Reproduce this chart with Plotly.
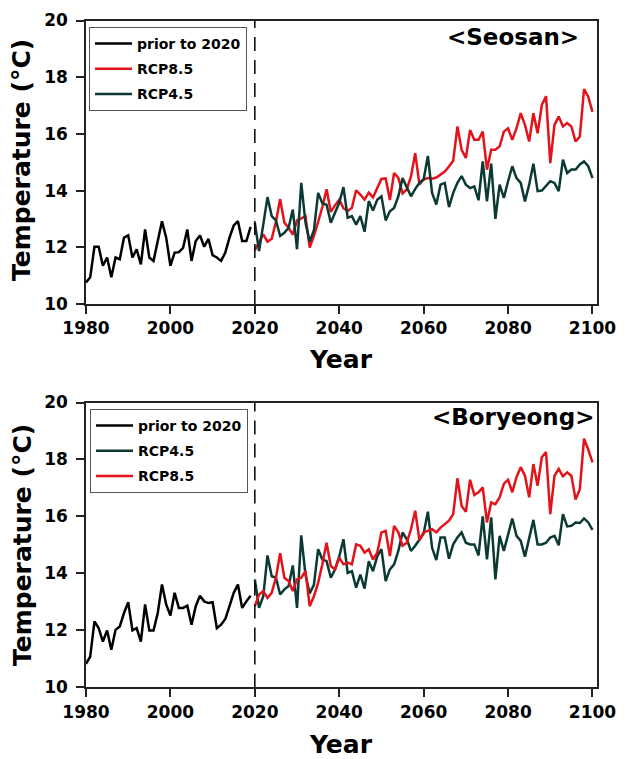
import plotly.graph_objects as go

# ---------------- data ----------------
HIST_YEARS = list(range(1980, 2020))
PROJ_YEARS = list(range(2020, 2101))
SPLIT_YEAR = 2020

seosan_hist = [10.76, 10.94, 12.02, 12.02, 11.35, 11.64, 10.94, 11.64, 11.58, 12.34,
               12.42, 11.64, 11.93, 11.40, 12.63, 11.64, 11.52, 12.20, 12.92, 12.34,
               11.35, 11.81, 11.83, 11.98, 12.63, 11.52, 12.22, 12.42, 12.02, 12.30,
               11.72, 11.64, 11.52, 11.81, 12.34, 12.77, 12.92, 12.22, 12.22, 12.72]

seosan_rcp85 = [11.90, 12.16, 12.46, 12.20, 12.30, 12.90, 13.70, 12.87, 12.69, 12.45,
                12.95, 13.02, 13.10, 11.99, 12.40, 12.90, 13.42, 14.05, 13.25, 13.48,
                13.68, 13.38, 13.28, 13.39, 14.01, 13.86, 13.68, 13.93, 13.76, 14.09,
                14.41, 14.43, 13.67, 14.62, 14.45, 13.90, 14.04, 14.50, 15.32, 14.22,
                14.39, 14.44, 14.42, 14.46, 14.55, 14.67, 14.85, 15.05, 16.26, 15.44,
                15.15, 16.14, 15.79, 15.79, 16.08, 14.74, 15.44, 15.44, 15.56, 16.08,
                16.20, 15.79, 16.20, 16.73, 16.32, 15.73, 16.73, 16.02, 17.02, 17.33,
                14.97, 16.32, 16.61, 16.26, 16.38, 16.26, 15.73, 15.91, 17.58, 17.31,
                16.78]

seosan_rcp45 = [12.87, 11.87, 12.80, 13.77, 13.10, 12.95, 12.40, 12.51, 12.69, 13.33,
                11.93, 14.27, 12.87, 12.20, 12.60, 13.92, 13.55, 13.50, 12.87, 13.22,
                13.57, 14.12, 13.04, 13.10, 12.80, 13.10, 12.55, 13.63, 13.30, 13.68,
                13.80, 12.95, 13.27, 13.39, 13.80, 14.44, 14.10, 13.80, 14.06, 14.27,
                14.40, 15.22, 13.92, 13.51, 14.21, 14.27, 13.42, 13.92, 14.27, 14.51,
                14.21, 14.09, 14.15, 13.66, 15.03, 13.62, 14.95, 13.00, 14.21, 13.74,
                14.33, 14.86, 14.44, 14.27, 13.62, 14.21, 14.95, 13.98, 14.00, 14.15,
                14.33, 14.27, 13.98, 15.09, 14.62, 14.74, 14.74, 14.92, 15.03, 14.86,
                14.44]

boryeong_hist = [10.83, 11.08, 12.32, 12.08, 11.61, 12.00, 11.32, 12.02, 12.14, 12.61,
                 12.99, 12.00, 12.08, 11.61, 12.91, 12.00, 12.00, 12.61, 13.61, 12.91,
                 12.52, 13.32, 12.79, 12.79, 12.87, 12.20, 12.85, 13.22, 13.02, 12.96,
                 12.99, 12.08, 12.20, 12.40, 12.85, 13.32, 13.61, 12.79, 13.02, 13.22]

boryeong_rcp45 = [13.79, 12.79, 13.20, 14.63, 13.90, 13.85, 13.26, 13.44, 13.56, 14.28,
                  12.79, 15.34, 13.96, 13.30, 13.60, 14.85, 14.49, 14.43, 13.85, 14.14,
                  14.60, 15.20, 14.02, 14.08, 13.50, 13.96, 13.47, 14.43, 14.08, 14.60,
                  14.85, 13.73, 14.14, 14.32, 14.79, 15.44, 15.20, 14.79, 14.97, 15.20,
                  15.40, 16.17, 14.90, 14.47, 15.26, 15.26, 14.52, 15.02, 15.26, 15.44,
                  15.08, 15.02, 15.02, 14.63, 16.00, 14.49, 15.97, 13.79, 15.32, 14.79,
                  15.32, 15.93, 15.32, 15.14, 14.59, 15.20, 15.88, 15.02, 15.02, 15.08,
                  15.26, 15.32, 14.99, 16.08, 15.65, 15.67, 15.79, 15.77, 15.93, 15.79,
                  15.53]

boryeong_rcp85 = [12.85, 13.26, 13.38, 13.14, 13.32, 13.85, 14.71, 13.85, 13.73, 13.38,
                  13.79, 13.85, 14.08, 12.85, 13.20, 13.67, 14.32, 15.08, 14.26, 14.14,
                  14.55, 14.32, 14.38, 14.32, 15.02, 14.97, 14.73, 14.85, 14.49, 14.73,
                  15.44, 15.49, 14.61, 15.67, 15.44, 14.97, 15.08, 15.55, 16.20, 15.17,
                  15.44, 15.50, 15.55, 15.44, 15.61, 15.73, 15.85, 16.08, 17.34, 16.37,
                  16.16, 17.29, 16.75, 16.85, 17.02, 15.79, 16.49, 16.43, 16.67, 17.14,
                  17.29, 16.85, 17.38, 17.73, 17.43, 16.67, 17.84, 17.08, 18.08, 18.26,
                  16.08, 17.43, 17.67, 17.41, 17.55, 17.43, 16.59, 16.96, 18.73, 18.35,
                  17.90]

X_TICKS = [1980, 2000, 2020, 2040, 2060, 2080, 2100]
Y_TICKS = [10, 12, 14, 16, 18, 20]

# ---------------- style ----------------
W, H = 637, 759
FONT = "DejaVu Sans"
C_HIST = "#000000"
C_85 = "#e3121b"
C_45 = "#0b3a34"
LW = 2.5


def px_x(p):
    return p / W


def px_y(p):
    return 1 - p / H


fig = go.Figure()


def add(x, y, name, color, xa, ya, legend, group):
    fig.add_trace(go.Scatter(x=x, y=y, mode="lines", name=name,
                             line=dict(color=color, width=LW),
                             xaxis=xa, yaxis=ya, legend=legend,
                             legendgroup=group))


# top: Seosan
add(HIST_YEARS, seosan_hist, "prior to 2020", C_HIST, "x", "y", "legend", "a1")
add(PROJ_YEARS, seosan_rcp85, "RCP8.5", C_85, "x", "y", "legend", "a2")
add(PROJ_YEARS, seosan_rcp45, "RCP4.5", C_45, "x", "y", "legend", "a3")
# bottom: Boryeong
add(HIST_YEARS, boryeong_hist, "prior to 2020", C_HIST, "x2", "y2", "legend2", "b1")
add(PROJ_YEARS, boryeong_rcp45, "RCP4.5", C_45, "x2", "y2", "legend2", "b2")
add(PROJ_YEARS, boryeong_rcp85, "RCP8.5", C_85, "x2", "y2", "legend2", "b3")

tickfont = dict(family=FONT, size=17, color="black", weight="bold")
xdom = [px_x(86), px_x(596.7)]
common_x = dict(range=[1980, 2101], tickvals=X_TICKS, ticks="outside", ticklen=8,
                tickwidth=1.5, tickcolor="#222", showline=True, linecolor="#222",
                linewidth=1.5, mirror=True, showgrid=False, zeroline=False,
                tickfont=tickfont, domain=xdom, automargin=False)
common_y = dict(range=[10, 20], tickvals=Y_TICKS, ticks="outside", ticklen=8,
                tickwidth=1.5, tickcolor="#222", showline=True, linecolor="#222",
                linewidth=1.5, mirror=True, showgrid=False, zeroline=False,
                tickfont=tickfont, automargin=False, ticklabelstandoff=5)

fig.update_layout(
    width=W, height=H,
    margin=dict(l=0, r=0, t=0, b=0, autoexpand=False),
    paper_bgcolor="white", plot_bgcolor="white",
    xaxis=dict(**common_x, anchor="y"),
    yaxis=dict(**common_y, anchor="x", domain=[px_y(304), px_y(20.5)]),
    xaxis2=dict(**common_x, anchor="y2"),
    yaxis2=dict(**common_y, anchor="x2", domain=[px_y(687.4), px_y(402.5)]),
    showlegend=True,
)

legend_style = dict(bgcolor="white", bordercolor="#555", borderwidth=1,
                    font=dict(family=FONT, size=14, color="black", weight="bold"),
                    xanchor="left", yanchor="top", traceorder="grouped",
                    tracegroupgap=4, itemwidth=37)
fig.update_layout(
    legend=dict(**legend_style, x=px_x(89), y=px_y(27)),
    legend2=dict(**legend_style, x=px_x(90), y=px_y(409)),
)

# split line at 2020
for xr, yr in (("x", "y"), ("x2", "y2")):
    fig.add_shape(type="line", xref=xr, yref=yr, x0=SPLIT_YEAR, x1=SPLIT_YEAR,
                  y0=Y_TICKS[0], y1=Y_TICKS[-1],
                  line=dict(color="black", width=1.5, dash="14px,9px"))

title_font = dict(family=FONT, size=23, color="black", weight="bold")
axis_font = dict(family=FONT, size=25, color="black", weight="bold")

annos = [
    dict(text="&lt;Seosan&gt;", x=px_x(581), y=px_y(37), xanchor="right", yanchor="middle",
         font=title_font),
    dict(text="&lt;Boryeong&gt;", x=px_x(596), y=px_y(417), xanchor="right", yanchor="middle",
         font=title_font),
    dict(text="Temperature (°C)", x=px_x(22), y=px_y(160), textangle=-90,
         xanchor="center", yanchor="middle", font=axis_font),
    dict(text="Temperature (°C)", x=px_x(22), y=px_y(545), textangle=-90,
         xanchor="center", yanchor="middle", font=axis_font),
    dict(text="Year", x=px_x(341), y=px_y(359), xanchor="center", yanchor="middle",
         font=axis_font),
    dict(text="Year", x=px_x(341), y=px_y(744), xanchor="center", yanchor="middle",
         font=axis_font),
]
for a in annos:
    fig.add_annotation(xref="paper", yref="paper", showarrow=False, **a)

fig.write_html("out.html", config={"displayModeBar": False},
               post_script="document.body.style.margin='0';document.body.style.overflow='hidden';")
